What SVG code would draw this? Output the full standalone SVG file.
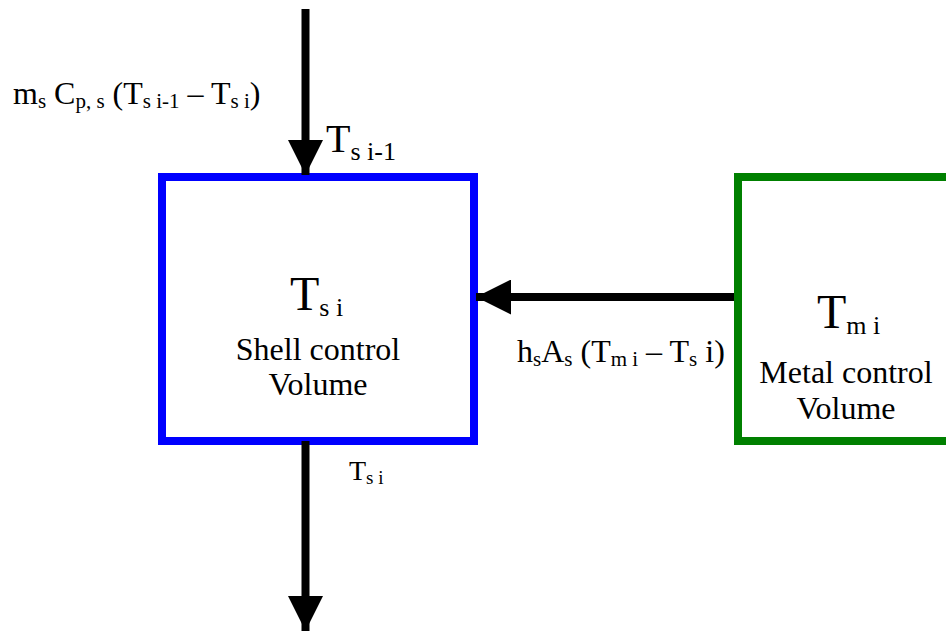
<svg xmlns="http://www.w3.org/2000/svg" width="946" height="631" viewBox="0 0 946 631">
<defs>
<style>
.box{fill:#fff;stroke-width:8}
.conn{stroke:#000;stroke-width:8;fill:none}
</style>
<marker id="ah" viewBox="0 0 35 35" refX="35" refY="17.5" markerWidth="35" markerHeight="35" markerUnits="userSpaceOnUse" orient="auto">
<path d="M0,0 L35,17.5 L0,35 Z" fill="#000"/>
</marker>
</defs>
<rect width="946" height="631" fill="#fff"/>
<g font-family="'Liberation Serif', 'DejaVu Serif', serif" fill="#000">
<g id="shell">
<rect class="box" x="162" y="177" width="312" height="264" stroke="#0000ff"/>
<text x="290" y="310" font-size="48">T<tspan font-size="26" dy="6">s i</tspan></text>
<text x="318" y="360" font-size="32" text-anchor="middle">Shell control</text>
<text x="318" y="395" font-size="32" text-anchor="middle">Volume</text>
</g>
<g id="metal">
<rect class="box" x="738" y="177" width="230" height="264" stroke="#008000"/>
<text x="817" y="328" font-size="48">T<tspan font-size="26" dy="6">m i</tspan></text>
<text x="846" y="383" font-size="32" text-anchor="middle">Metal control</text>
<text x="846" y="419" font-size="32" text-anchor="middle">Volume</text>
</g>
<g id="connectors">
<line class="conn" x1="305.5" y1="9" x2="305.5" y2="175" marker-end="url(#ah)"/>
<line class="conn" x1="734" y1="297" x2="476" y2="297" marker-end="url(#ah)"/>
<line class="conn" x1="305.5" y1="441" x2="305.5" y2="631" marker-end="url(#ah)"/>
</g>
<g id="labels">
<text x="13" y="104" font-size="32">m<tspan font-size="21" dy="4">s</tspan><tspan dy="-4"> C</tspan><tspan font-size="21" dy="4">p, s</tspan><tspan dy="-4"> (T</tspan><tspan font-size="21" dy="4">s i-1</tspan><tspan dy="-4"> – T</tspan><tspan font-size="21" dy="4">s i</tspan><tspan dy="-4">)</tspan></text>
<text x="326" y="152" font-size="40">T<tspan font-size="26" dy="8">s i-1</tspan></text>
<text x="517" y="362" font-size="32">h<tspan font-size="21" dy="4">s</tspan><tspan dy="-4">A</tspan><tspan font-size="21" dy="4">s</tspan><tspan dy="-4"> (T</tspan><tspan font-size="21" dy="4">m i</tspan><tspan dy="-4"> – T</tspan><tspan font-size="21" dy="4">s</tspan><tspan dy="-4"> i)</tspan></text>
<text x="349" y="480" font-size="28">T<tspan font-size="19" dy="4">s i</tspan></text>
</g>
</g>
</svg>
